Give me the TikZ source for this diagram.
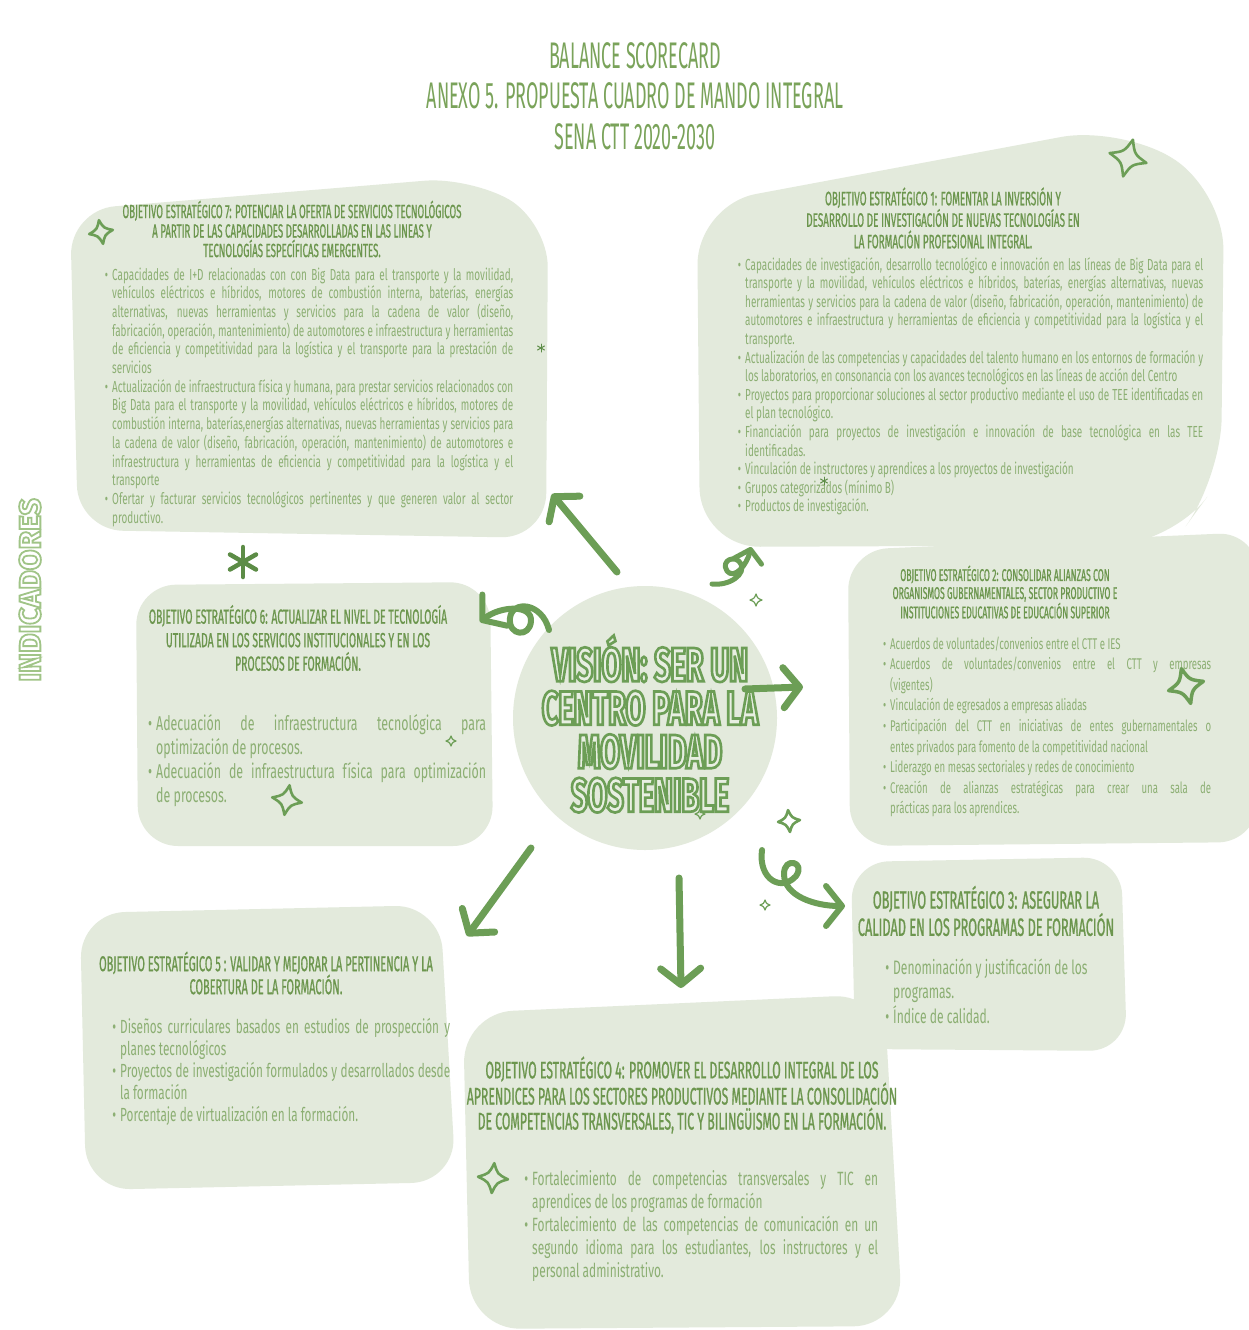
\documentclass[tikz,border=0pt]{standalone}
\usepackage{fontspec}
\setmainfont{Fira Sans}
\newfontfamily\titlefont[FakeStretch=0.485]{Fira Sans}
\newfontfamily\headfont[FakeStretch=0.51,FakeBold=0.8]{Fira Sans}
\newfontfamily\bodyfont[FakeStretch=0.62]{Fira Sans}
\newfontfamily\visionfont[FakeStretch=0.6,FakeBold=5.5]{Fira Sans}
\newfontfamily\indfont[FakeBold=6]{Fira Sans}
\usetikzlibrary{arrows.meta}

\definecolor{boxfill}{RGB}{227,234,220}
\definecolor{titlegreen}{RGB}{122,163,90}
\definecolor{headgreen}{RGB}{108,150,78}
\definecolor{bodygreen}{RGB}{140,175,115}
\definecolor{arrowgreen}{RGB}{108,158,86}
\definecolor{darkgreen}{RGB}{92,140,70}
\definecolor{indgreen}{RGB}{160,196,135}

\newcommand{\bul}{\leavevmode\llap{\textbullet\hspace{4pt}}}
% hollow lettering: the emboldened font strokes its outline in the text colour,
% and the fill of the glyphs is switched to a pale tone
\newcommand{\hollowpale}{\special{pdf:literal direct 0.910 0.937 0.886 rg}}
\newcommand{\hollowwhite}{\special{pdf:literal direct 1 1 1 rg}}

\tikzset{
  blob/.style={fill=boxfill, rounded corners=45pt},
  head/.style={text=headgreen, align=center, inner sep=0pt},
  body/.style={text=bodygreen, align=justify, inner sep=0pt, anchor=base west},
  arr/.style={draw=arrowgreen, line width=7pt, line cap=round, line join=round,
    -{Straight Barb[length=16pt,width=40pt,round]}},
  sparkline/.style={draw=arrowgreen, line width=2.6pt, line join=round, line cap=round},
  sparkle/.pic={\path[sparkline] (0,-1) .. controls (0.28,-0.28) .. (1,0)
      .. controls (0.28,0.28) .. (0,1) .. controls (-0.28,0.28) .. (-1,0)
      .. controls (-0.28,-0.28) .. cycle;},
  vis/.style={font=\visionfont\bfseries\fontsize{48}{43.5}\selectfont, align=center, inner sep=0pt, text=arrowgreen},
  ind/.style={font=\indfont\bfseries\fontsize{30}{30}\selectfont, inner sep=0pt, rotate=90, text=indgreen},
}

\begin{document}
\begin{tikzpicture}[x=1pt,y=-1pt]
\useasboundingbox (0,0) rectangle (1248,1330);
\fill[white] (0,0) rectangle (1248,1330);

% ---- background blobs ----
\path[blob] (70,210) -- (470,177) -- (548,222) -- (546,538) -- (78,530) -- cycle;
\path[blob, rounded corners=60pt] (697,205) -- (1120,126) -- (1224,190) -- (1221,478) -- (1172,545) -- (700,547) -- cycle;
\path[blob, rounded corners=40pt] (136,585) -- (490,582) -- (493,846) -- (138,846) -- cycle;
\path[blob, rounded corners=40pt] (848,550) -- (1258,532) -- (1258,842) -- (850,846) -- cycle;
\path[blob, rounded corners=38pt] (851,862) -- (1121,857) -- (1127,1051) -- (855,1049) -- cycle;
\path[blob] (80,913) -- (440,905) -- (456,1182) -- (86,1190) -- cycle;
\path[blob, rounded corners=50pt] (463,1013) -- (884,994) -- (903,1326) -- (470,1329) -- cycle;
\fill[boxfill] (645,718) circle (132);

% ---- title ----
\node[font=\titlefont\fontsize{37}{40.5}\selectfont, text=titlegreen, align=center, inner sep=0pt] (title) at (635,96)
  {BALANCE SCORECARD\\ANEXO 5. PROPUESTA CUADRO DE MANDO INTEGRAL\\SENA CTT 2020-2030};

% ---- side label ----
\node[ind] (ind) at (30,590) {\hollowwhite INDICADORES};

% ---- objective 7 ----
\node[head, font=\headfont\fontsize{19}{19.5}\selectfont] (h7) at (292,229)
  {OBJETIVO ESTRATÉGICO 7: POTENCIAR LA OFERTA DE SERVICIOS TECNOLÓGICOS\\A PARTIR DE LAS CAPACIDADES DESARROLLADAS EN LAS LINEAS Y\\TECNOLOGÍAS ESPECÍFICAS EMERGENTES.};
\node[body, text width=401pt, font=\bodyfont\fontsize{16}{18.7}\selectfont] (b7) at (112,280) {\hyphenpenalty=10000
  \bul Capacidades de I+D relacionadas con con Big Data para el transporte y la movilidad,\linebreak
  vehículos eléctricos e híbridos, motores de combustión interna, baterías, energías\linebreak
  alternativas, nuevas herramientas y servicios para la cadena de valor (diseño,\linebreak
  fabricación, operación, mantenimiento) de automotores e infraestructura y herramientas\linebreak
  de eficiencia y competitividad para la logística y el transporte para la prestación de\linebreak
  servicios\par
  \bul Actualización de infraestructura física y humana, para prestar servicios relacionados con\linebreak
  Big Data para el transporte y la movilidad, vehículos eléctricos e híbridos, motores de\linebreak
  combustión interna, baterías,energías alternativas, nuevas herramientas y servicios para\linebreak
  la cadena de valor (diseño, fabricación, operación, mantenimiento) de automotores e\linebreak
  infraestructura y herramientas de eficiencia y competitividad para la logística y el\linebreak
  transporte\par
  \bul Ofertar y facturar servicios tecnológicos pertinentes y que generen valor al sector\linebreak
  productivo.\par};

% ---- objective 1 ----
\node[head, font=\headfont\fontsize{19.5}{21.5}\selectfont] (h1) at (943,218)
  {OBJETIVO ESTRATÉGICO 1: FOMENTAR LA INVERSIÓN Y\\DESARROLLO DE INVESTIGACIÓN DE NUEVAS TECNOLOGÍAS EN\\LA FORMACIÓN PROFESIONAL INTEGRAL.};
\node[body, text width=458pt, font=\bodyfont\fontsize{16}{18.6}\selectfont] (b1) at (745,270) {\hyphenpenalty=10000
  \bul Capacidades de investigación, desarrollo tecnológico e innovación en las líneas de Big Data para el\linebreak
  transporte y la movilidad, vehículos eléctricos e híbridos, baterías, energías alternativas, nuevas\linebreak
  herramientas y servicios para la cadena de valor (diseño, fabricación, operación, mantenimiento) de\linebreak
  automotores e infraestructura y herramientas de eficiencia y competitividad para la logística y el\linebreak
  transporte.\par
  \bul Actualización de las competencias y capacidades del talento humano en los entornos de formación y\linebreak
  los laboratorios, en consonancia con los avances tecnológicos en las líneas de acción del Centro\par
  \bul Proyectos para proporcionar soluciones al sector productivo mediante el uso de TEE identificadas en\linebreak
  el plan tecnológico.\par
  \bul Financiación para proyectos de investigación e innovación de base tecnológica en las TEE\linebreak
  identificadas.\par
  \bul Vinculación de instructores y aprendices a los proyectos de investigación\par
  \bul Grupos categorizados (mínimo B)\par
  \bul Productos de investigación.\par};

% ---- objective 6 ----
\node[head, font=\headfont\fontsize{20.5}{23.5}\selectfont] (h6) at (298,638)
  {OBJETIVO ESTRATÉGICO 6: ACTUALIZAR EL NIVEL DE TECNOLOGÍA\\UTILIZADA EN LOS SERVICIOS INSTITUCIONALES Y EN LOS\\PROCESOS DE FORMACIÓN.};
\node[body, text width=330pt, font=\bodyfont\fontsize{20}{24}\selectfont] (b6) at (156,730) {\hyphenpenalty=10000
  \bul Adecuación de infraestructura tecnológica para\linebreak
  optimización de procesos.\par
  \bul Adecuación de infraestructura física para optimización\linebreak
  de procesos.\par};

% ---- objective 2 ----
\node[head, font=\headfont\fontsize{17}{18}\selectfont] (h2) at (1005,592)
  {OBJETIVO ESTRATÉGICO 2: CONSOLIDAR ALIANZAS CON\\ORGANISMOS GUBERNAMENTALES, SECTOR PRODUCTIVO E\\INSTITUCIONES EDUCATIVAS DE EDUCACIÓN SUPERIOR};
\node[body, text width=321pt, font=\bodyfont\fontsize{15.5}{20.6}\selectfont] (b2) at (890,649) {\hyphenpenalty=10000
  \bul Acuerdos de voluntades/convenios entre el CTT e IES\par
  \bul Acuerdos de voluntades/convenios entre el CTT y empresas\linebreak
  (vigentes)\par
  \bul Vinculación de egresados a empresas aliadas\par
  \bul Participación del CTT en iniciativas de entes gubernamentales o\linebreak
  entes privados para fomento de la competitividad nacional\par
  \bul Liderazgo en mesas sectoriales y redes de conocimiento\par
  \bul Creación de alianzas estratégicas para crear una sala de\linebreak
  prácticas para los aprendices.\par};

% ---- objective 3 ----
\node[head, font=\headfont\fontsize{25}{26}\selectfont] (h3) at (986,911)
  {OBJETIVO ESTRATÉGICO 3: ASEGURAR LA\\CALIDAD EN LOS PROGRAMAS DE FORMACIÓN};
\node[body, text width=225pt, font=\bodyfont\fontsize{19.5}{24.5}\selectfont] (b3) at (893,974)
  {\bul Denominación y justificación de los\newline programas.\par
   \bul Índice de calidad.\par};

% ---- objective 5 ----
\node[head, font=\headfont\fontsize{21.5}{23}\selectfont] (h5) at (266,973)
  {OBJETIVO ESTRATÉGICO 5 : VALIDAR Y MEJORAR LA PERTINENCIA Y LA\\COBERTURA DE LA FORMACIÓN.};
\node[body, text width=330pt, font=\bodyfont\fontsize{19}{22}\selectfont] (b5) at (120,1033) {\hyphenpenalty=10000
  \bul Diseños curriculares basados en estudios de prospección y\linebreak
  planes tecnológicos\par
  \bul Proyectos de investigación formulados y desarrollados desde\linebreak
  la formación\par
  \bul Porcentaje de virtualización en la formación.\par};

% ---- objective 4 ----
\node[head, font=\headfont\fontsize{24}{25}\selectfont] (h4) at (682,1095)
  {OBJETIVO ESTRATÉGICO 4: PROMOVER EL DESARROLLO INTEGRAL DE LOS\\APRENDICES PARA LOS SECTORES PRODUCTIVOS MEDIANTE LA CONSOLIDACIÓN\\DE COMPETENCIAS TRANSVERSALES, TIC Y BILINGÜISMO EN LA FORMACIÓN.};
\node[body, text width=346pt, font=\bodyfont\fontsize{19.2}{23}\selectfont] (b4) at (532,1185) {\hyphenpenalty=10000
  \bul Fortalecimiento de competencias transversales y TIC en\linebreak
  aprendices de los programas de formación\par
  \bul Fortalecimiento de las competencias de comunicación en un\linebreak
  segundo idioma para los estudiantes, los instructores y el\linebreak
  personal administrativo.\par};

% ---- vision in the centre ----
\node[vis] (vision) at (650,724)
  {\hollowpale VISIÓN: SER UN\\\hollowpale CENTRO PARA LA\\\hollowpale MOVILIDAD\\\hollowpale SOSTENIBLE};

% ---- arrows from the vision to each objective ----
\coordinate (a7s) at (617,572);  \coordinate (a7e) at (552,494);
\coordinate (a5s) at (531,848);  \coordinate (a5e) at (467,936);
\coordinate (a4s) at (679,878);  \coordinate (a4e) at (681,988);
\coordinate (a2s) at (745,689);  \coordinate (a2e) at (803,687);
\coordinate (a6s) at (549,630);  \coordinate (a6e) at (480,622);
\coordinate (a1s) at (712,584);  \coordinate (a1e) at (751,547);
\coordinate (a3s) at (762,850);  \coordinate (a3e) at (845,906);
\draw[arr] (a7s) -- (a7e);
\draw[arr] (a5s) -- (a5e);
\draw[arr] (a4s) -- (a4e);
\draw[arr] (a2s) -- (a2e);
\draw[arr, line width=6pt] (a6s) .. controls (542,602) and (512,600) .. (510,618)
   .. controls (508,636) and (530,638) .. (531,621) .. controls (532,604) and (500,606) .. (a6e);
\draw[arr, line width=5pt, -{Straight Barb[length=12pt,width=28pt,round]}] (a1s) .. controls (730,586) and (746,574) .. (741,564)
   .. controls (736,554) and (720,560) .. (727,571) .. controls (734,580) and (747,565) .. (a1e);
\draw[arr, line width=6pt] (a3s) .. controls (758,880) and (782,892) .. (796,876)
   .. controls (806,862) and (784,856) .. (784,874) .. controls (784,896) and (815,906) .. (a3e);

% ---- sparkles and asterisks ----
\pic[rotate=-15, scale=19] at (1128,158) {sparkle};
\pic[rotate=10, scale=12] at (101,232) {sparkle};
\pic[rotate=-10, scale=15] at (287,800) {sparkle};
\pic[rotate=15, scale=18, sparkline/.append style={line width=3.5pt}] at (1186,686) {sparkle};
\pic[rotate=5, scale=11] at (789,821) {sparkle};
\pic[rotate=-5, scale=15] at (493,1178) {sparkle};
\pic[scale=6, sparkline/.append style={line width=1.2pt}] at (756,600) {sparkle};
\pic[scale=5, sparkline/.append style={line width=1.2pt}] at (765,905) {sparkle};
\pic[scale=5, sparkline/.append style={line width=1.2pt}] at (451,741) {sparkle};
\pic[scale=5, sparkline/.append style={line width=1.2pt}] at (700,814) {sparkle};
\foreach \a in {90,150,210}
  \draw[darkgreen, line width=4.5pt, line cap=round] (243,562) ++(\a:15) -- ++(\a+180:30);
\foreach \a in {90,150,210}
  \draw[darkgreen, line width=1pt, line cap=round] (541,348) ++(\a:4) -- ++(\a+180:8);
\foreach \a in {90,150,210}
  \draw[darkgreen, line width=1pt, line cap=round] (824,481) ++(\a:4) -- ++(\a+180:8);
\end{tikzpicture}
\end{document}
